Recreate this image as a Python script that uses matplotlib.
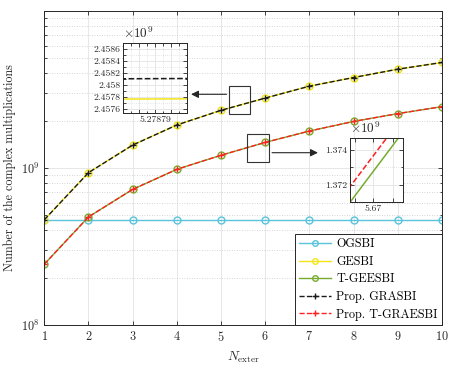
import numpy as np
import matplotlib
matplotlib.use('Agg')
import matplotlib.pyplot as plt
from matplotlib import ticker
from matplotlib.patches import Rectangle

# estilo tipo LaTeX / MATLAB
plt.rcParams['font.family'] = 'serif'
plt.rcParams['font.serif'] = ['cmr10', 'DejaVu Serif']
plt.rcParams['mathtext.fontset'] = 'cm'
plt.rcParams['axes.formatter.use_mathtext'] = True
plt.rcParams['axes.unicode_minus'] = False

# datos
n_exter = [1, 2, 3, 4, 5, 6, 7, 8, 9, 10]
ogsbi = [4.68e8, 4.68e8, 4.68e8, 4.68e8, 4.68e8, 4.68e8, 4.68e8, 4.68e8, 4.68e8, 4.68e8]
gesbi = [4.68e8, 9.34e8, 1.40e9, 1.88e9, 2.33e9, 2.7883e9, 3.32e9, 3.77e9, 4.26e9, 4.70e9]
t_geesbi = [2.44e8, 4.88e8, 7.31e8, 9.81e8, 1.20526e9, 1.45526e9, 1.72e9, 1.98e9, 2.22e9, 2.46e9]
prop_grasbi = [4.68e8, 9.34e8, 1.40e9, 1.88e9, 2.33034e9, 2.78864e9, 3.32e9, 3.77e9, 4.26e9, 4.70e9]
prop_t_graesbi = [2.44e8, 4.88e8, 7.31e8, 9.81e8, 1.20615e9, 1.45615e9, 1.72e9, 1.98e9, 2.22e9, 2.46e9]

etiquetas = ['OGSBI', 'GESBI', 'T-GEESBI', 'Prop. GRASBI', 'Prop. T-GRAESBI']
series = [ogsbi, gesbi, t_geesbi, prop_grasbi, prop_t_graesbi]
estilos = [
    dict(color='#5BC3DC', linestyle='-', marker='o', mfc='none'),
    dict(color='#F2E51A', linestyle='-', marker='o', mfc='none'),
    dict(color='#77AC30', linestyle='-', marker='o', mfc='none'),
    dict(color='#1a1a1a', linestyle='--', marker='+'),
    dict(color='#FF2020', linestyle='--', marker='+'),
]

zoom1_x = 5.27879
zoom1_yticks = [2.4576e9, 2.4578e9, 2.4580e9, 2.4582e9, 2.4584e9, 2.4586e9]
zoom2_x = 5.67
zoom2_yticks = [1.372e9, 1.374e9]

eje_color = '#262626'
W, H = 457, 369


def px(x0, y0, x1, y1):
    # rectangulo en pixeles -> fraccion de figura
    return [x0 / W, 1 - y1 / H, (x1 - x0) / W, (y1 - y0) / H]


def estilo_ejes(ax):
    for s in ax.spines.values():
        s.set_color(eje_color)
        s.set_linewidth(0.7)
    ax.tick_params(which='both', direction='in', top=True, right=True,
                   colors=eje_color, width=0.6)
    ax.tick_params(which='major', length=3)
    ax.tick_params(which='minor', length=1.8)
    ax.grid(True, which='major', color='#e3e3e3', linewidth=0.6, linestyle='-')
    ax.set_axisbelow(True)


fig = plt.figure(figsize=(W / 100, H / 100), dpi=100)
ax = fig.add_axes(px(44.3, 11, 442, 325))

for datos, lab, st in zip(series, etiquetas, estilos):
    ax.plot(n_exter, datos, label=lab, linewidth=1.0, markersize=5,
            markeredgewidth=1.0, **st)

ax.set_yscale('log')
ax.set_xlim(1, 10)
ax.set_ylim(1e8, 1e10)
ax.set_xticks(n_exter)
ax.set_yticks([1e8, 1e9])
ax.yaxis.set_minor_locator(ticker.LogLocator(base=10, subs=np.arange(2, 10)))
ax.yaxis.set_minor_formatter(ticker.NullFormatter())
estilo_ejes(ax)
ax.grid(True, which='minor', axis='y', color='#c8c8c8', linewidth=0.6, linestyle=(0, (1, 2)))
ax.tick_params(labelsize=8.8)
ax.set_xlabel(r'$N_{\rm exter}$', fontsize=9.5, color=eje_color, labelpad=4)
ax.set_ylabel('Number of the complex multiplications', fontsize=8.7, color=eje_color, labelpad=3)

leg = ax.legend(loc='lower right', fontsize=8.8, borderaxespad=0, fancybox=False,
                edgecolor=eje_color, framealpha=1, handlelength=2.6,
                handletextpad=0.45, labelspacing=0.45, borderpad=0.35, numpoints=1,
                markerscale=0.8)
leg.get_frame().set_linewidth(0.7)

# recuadros de zoom sobre las curvas
ax.add_patch(Rectangle((5.18, 2.21e9), 0.48, 3.33e9 - 2.21e9, fill=False,
                       edgecolor='#333333', linewidth=0.8, zorder=5))
ax.add_patch(Rectangle((5.58, 1.087e9), 0.51, 1.647e9 - 1.087e9, fill=False,
                       edgecolor='#333333', linewidth=0.8, zorder=5))

ax.annotate('', xy=(188.3 / W, 1 - 94.3 / H), xytext=(229.3 / W, 1 - 94.3 / H),
            xycoords='figure fraction', textcoords='figure fraction',
            arrowprops=dict(arrowstyle='-|>', color='#262626', lw=0.8, mutation_scale=11))
ax.annotate('', xy=(320.7 / W, 1 - 152.7 / H), xytext=(269.3 / W, 1 - 152.7 / H),
            xycoords='figure fraction', textcoords='figure fraction',
            arrowprops=dict(arrowstyle='-|>', color='#262626', lw=0.8, mutation_scale=11))

fmt_e9 = ticker.FuncFormatter(lambda v, _: f'{v / 1e9:g}')

# inset 1
ins1 = fig.add_axes(px(123.3, 42.7, 187.3, 113.3))
for datos, st in zip(series, estilos):
    ins1.plot(n_exter, datos, linewidth=1.1, **st)
ins1.set_xlim(zoom1_x - 5e-6, zoom1_x + 5e-6)
ins1.set_ylim(2.45753e9, 2.45871e9)
ins1.set_xticks([zoom1_x - 2.5e-6, zoom1_x, zoom1_x + 2.5e-6])
ins1.set_xticklabels(['', '5.27879', ''])
ins1.set_yticks(zoom1_yticks)
ins1.yaxis.set_major_formatter(fmt_e9)
ins1.xaxis.set_minor_locator(ticker.AutoMinorLocator(2))
ins1.yaxis.set_minor_locator(ticker.AutoMinorLocator(2))
estilo_ejes(ins1)
ins1.grid(True, which='minor', color='#cfcfcf', linewidth=0.5, linestyle=(0, (1, 2)))
ins1.tick_params(labelsize=7, pad=2)
ins1.text(0, 1.02, r'$\times10^{9}$', transform=ins1.transAxes, fontsize=9.5,
          ha='left', va='bottom', color=eje_color)

# inset 2
ins2 = fig.add_axes(px(350, 137.7, 402.7, 202.3))
for datos, st in zip(series, estilos):
    ins2.plot(n_exter, datos, linewidth=1.1, **st)
ins2.set_xlim(5.663, 5.679)
ins2.set_ylim(1.37101e9, 1.3747e9)
ins2.set_xticks([5.6645, zoom2_x, 5.676])
ins2.set_xticklabels(['', '5.67', ''])
ins2.set_yticks(zoom2_yticks)
ins2.yaxis.set_major_formatter(fmt_e9)
ins2.yaxis.set_minor_locator(ticker.AutoMinorLocator(2))
estilo_ejes(ins2)
ins2.grid(True, which='minor', color='#cfcfcf', linewidth=0.5, linestyle=(0, (1, 2)))
ins2.tick_params(labelsize=7, pad=2)
ins2.text(0, 1.02, r'$\times10^{9}$', transform=ins2.transAxes, fontsize=9.5,
          ha='left', va='bottom', color=eje_color)

fig.savefig('out.png', dpi=100)
